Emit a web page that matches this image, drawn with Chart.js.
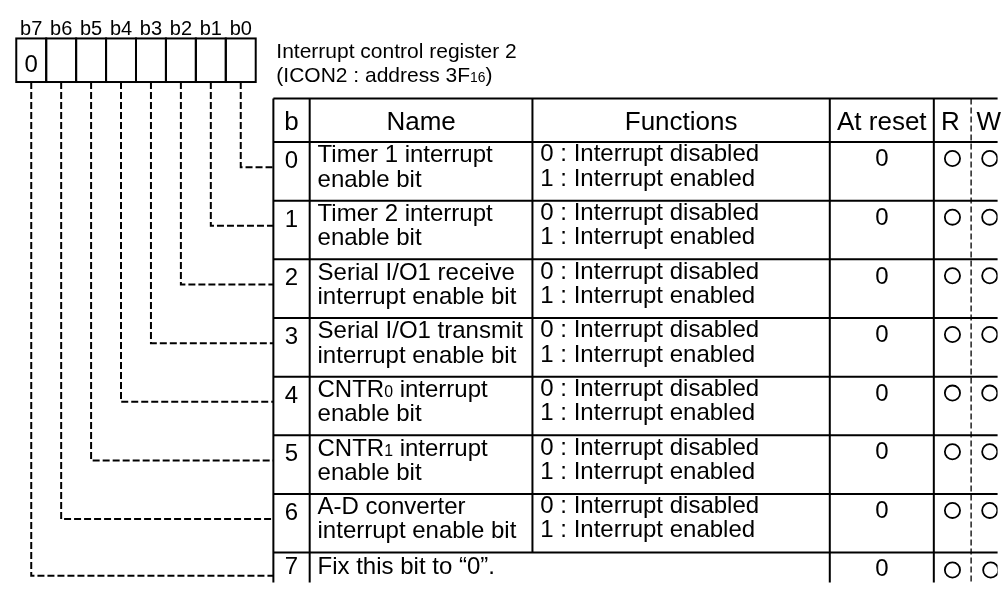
<!DOCTYPE html>
<html><head><meta charset="utf-8">
<script src="https://cdn.jsdelivr.net/npm/chart.js@4"></script>
<style>html,body{margin:0;padding:0;background:#fff}#wrap{width:1007px;height:592px;position:relative}</style>
</head><body><div id="wrap"><canvas id="c"></canvas></div>
<script>
// ---------- data ----------
const bitLabels = ['b7','b6','b5','b4','b3','b2','b1','b0'];
const registerBits = ['0','','','','','','',''];
const titleLines = ['Interrupt control register 2','(ICON2 : address 3F_16)'];
const headers = ['b','Name','Functions','At reset','R','W'];
const bitNumbers = ['0','1','2','3','4','5','6','7'];
const names = [
  ['Timer 1 interrupt','enable bit'],
  ['Timer 2 interrupt','enable bit'],
  ['Serial I/O1 receive','interrupt enable bit'],
  ['Serial I/O1 transmit','interrupt enable bit'],
  ['CNTR_0 interrupt','enable bit'],
  ['CNTR_1 interrupt','enable bit'],
  ['A-D converter','interrupt enable bit'],
  ['Fix this bit to \u201c0\u201d.']
];
const functionTexts = [
  ['0 : Interrupt disabled','1 : Interrupt enabled'],
  ['0 : Interrupt disabled','1 : Interrupt enabled'],
  ['0 : Interrupt disabled','1 : Interrupt enabled'],
  ['0 : Interrupt disabled','1 : Interrupt enabled'],
  ['0 : Interrupt disabled','1 : Interrupt enabled'],
  ['0 : Interrupt disabled','1 : Interrupt enabled'],
  ['0 : Interrupt disabled','1 : Interrupt enabled'],
  []
];
const resetValues = ['0','0','0','0','0','0','0','0'];
const readable = [true,true,true,true,true,true,true,true];
const writable = [true,true,true,true,true,true,true,true];

// ---------- layout ----------
const L = {
  boxLeft: 7, boxW: 30.5, boxTop: 30, boxBottom: 75,
  labelBase: 26, boxTextBase: 65,
  titleX: 272, titleBase: [50, 75],
  cols: [269, 306, 533, 836, 942, 980, 1016],
  headTop: 92, headBase: 125, rowTop0: 137, rowH: 60.57,
  linkOff: 26
};
const FONT = '"Liberation Sans", Arial, Helvetica, sans-serif';
const f = s => s + 'px ' + FONT;
const rowTop = i => L.rowTop0 + L.rowH * i;
const boxCenter = j => L.boxLeft + (j + 0.5) * L.boxW;
const colCenter = c => (L.cols[c] + L.cols[c + 1]) / 2;
const last = names.length - 1;

// connection lines (bit k -> box index 7-k)
const linkSets = bitNumbers.map((b, k) => {
  const x = boxCenter(bitLabels.length - 1 - k);
  const y = rowTop(k) + (k === last ? 24 : L.linkOff);
  return {
    type: 'scatter', showLine: true,
    data: [{x: x, y: L.boxBottom}, {x: x, y: y}, {x: L.cols[0], y: y}],
    borderColor: '#000', borderWidth: 2, borderDash: [7, 3],
    pointRadius: 0, tension: 0, fill: false
  };
});
const circY = k => rowTop(k) + (k === last ? 18 : 17);
const rSet = {
  type: 'scatter',
  data: readable.map((v, k) => v ? {x: colCenter(4), y: circY(k)} : null).filter(Boolean),
  pointStyle: 'circle', pointRadius: 7.6, borderWidth: 1.8,
  borderColor: '#000', backgroundColor: '#fff'
};
const wSet = {
  type: 'scatter',
  data: writable.map((v, k) => v ? {x: colCenter(5) + (k === last ? 2 : 1), y: circY(k)} : null).filter(Boolean),
  pointStyle: 'circle', pointRadius: 7.6, borderWidth: 1.8,
  borderColor: '#000', backgroundColor: '#fff'
};

function rich(ctx, text, x, y, size, align) {
  const parts = text.split(/_(\d+)/);
  const segs = []; let w = 0;
  parts.forEach((p, i) => {
    if (!p) return;
    const s = i % 2 ? size * 0.66 : size;
    ctx.font = f(s);
    const m = ctx.measureText(p).width;
    segs.push({p, s, m}); w += m;
  });
  let cx = align === 'center' ? x - w / 2 : x;
  ctx.textAlign = 'left';
  segs.forEach(s => { ctx.font = f(s.s); ctx.fillText(s.p, cx, y); cx += s.m; });
}

const diagram = {
  id: 'diagram',
  beforeDatasetsDraw(chart) {
    const ctx = chart.ctx, X = chart.scales.x, Y = chart.scales.y;
    const px = v => X.getPixelForValue(v), py = v => Y.getPixelForValue(v);
    const bottom = py(592);
    ctx.save();
    ctx.fillStyle = '#000'; ctx.strokeStyle = '#000'; ctx.textBaseline = 'alphabetic';
    // register boxes
    ctx.lineWidth = 2;
    bitLabels.forEach((lab, j) => {
      const x0 = px(L.boxLeft + j * L.boxW), x1 = px(L.boxLeft + (j + 1) * L.boxW);
      ctx.strokeRect(x0, py(L.boxTop), x1 - x0, py(L.boxBottom) - py(L.boxTop));
      rich(ctx, lab, px(boxCenter(j)), py(L.labelBase), 20, 'center');
      if (registerBits[j]) rich(ctx, registerBits[j], px(boxCenter(j)), py(L.boxTextBase), 24, 'center');
    });
    // title
    titleLines.forEach((t, i) => rich(ctx, t, px(L.titleX), py(L.titleBase[i]), 21, 'left'));
    // table lines
    const right = px(1007);
    ctx.lineWidth = 2; ctx.setLineDash([]);
    ctx.beginPath();
    ctx.moveTo(px(L.cols[0]), py(L.headTop)); ctx.lineTo(right, py(L.headTop));
    for (let i = 0; i < names.length; i++) {
      ctx.moveTo(px(L.cols[0]), py(rowTop(i))); ctx.lineTo(right, py(rowTop(i)));
    }
    [0, 1, 3, 4].forEach(c => { ctx.moveTo(px(L.cols[c]), py(L.headTop)); ctx.lineTo(px(L.cols[c]), bottom); });
    ctx.moveTo(px(L.cols[2]), py(L.headTop)); ctx.lineTo(px(L.cols[2]), py(rowTop(last)));
    ctx.stroke();
    ctx.beginPath(); ctx.lineWidth = 1.3; ctx.setLineDash([6, 3]);
    ctx.moveTo(px(L.cols[5]), py(L.headTop)); ctx.lineTo(px(L.cols[5]), bottom);
    ctx.stroke(); ctx.setLineDash([]);
    // headers
    headers.forEach((h, c) => rich(ctx, h, px(colCenter(c) - (c === 4 ? 2 : 0)), py(L.headBase), 26, 'center'));
    // rows
    names.forEach((nm, k) => {
      const top = rowTop(k), single = k === last;
      rich(ctx, bitNumbers[k], px(colCenter(0)), py(top + (single ? 22 : 27)), 24, 'center');
      nm.forEach((line, li) => rich(ctx, line, px(L.cols[1] + 8), py(top + (single ? 22 : 21 + 25 * li)), 24, 'left'));
      functionTexts[k].forEach((line, li) => rich(ctx, line, px(L.cols[2] + 8), py(top + 20 + 25 * li), 24, 'left'));
      rich(ctx, resetValues[k], px(colCenter(3)), py(top + (single ? 24 : 25)), 24, 'center');
    });
    ctx.restore();
  }
};

new Chart(document.getElementById('c'), {
  type: 'scatter',
  data: { datasets: [...linkSets, rSet, wSet] },
  options: {
    responsive: true, maintainAspectRatio: false, animation: false, events: [],
    layout: { padding: 0 },
    plugins: { legend: { display: false }, tooltip: { enabled: false } },
    scales: {
      x: { type: 'linear', min: 0, max: 1007, display: false },
      y: { type: 'linear', min: 0, max: 592, reverse: true, display: false }
    }
  },
  plugins: [diagram]
});
</script></body></html>
